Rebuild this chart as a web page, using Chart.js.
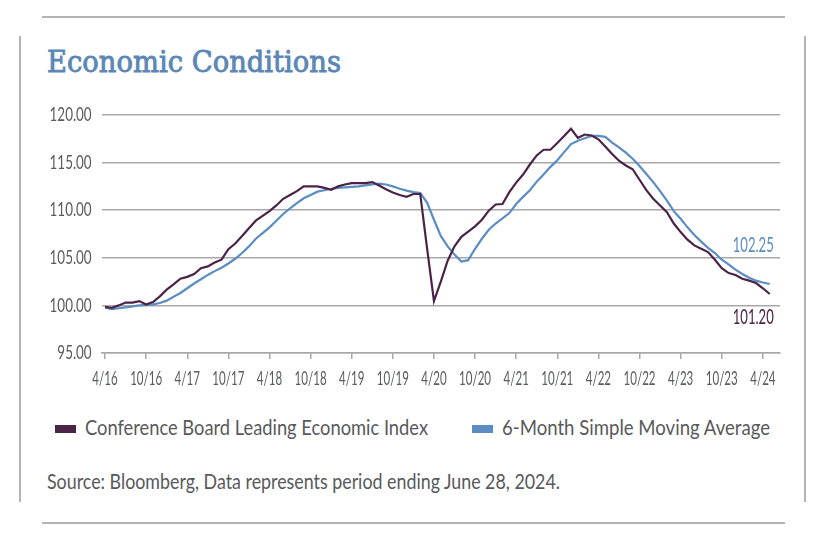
<!DOCTYPE html>
<html>
<head>
<meta charset="utf-8">
<script src="https://cdn.jsdelivr.net/npm/chart.js@4"></script>
<style>
  html, body { margin: 0; padding: 0; background: #fff; }
  body { width: 818px; height: 540px; position: relative; overflow: hidden; }
  .rule { position: absolute; background: #b4b4b4; }
  .texto { position: absolute; white-space: nowrap; transform-origin: 0 0; }
  #titulo { left: 47px; top: 48px; font: 29px 'DejaVu Serif', serif; line-height: 29px; color: #5b87b6; -webkit-text-stroke: 0.9px #5b87b6; }
  .leyenda { top: 416px; font: 21px Lato, 'Noto Sans', sans-serif; line-height: 21px; color: #58595b; }
  #fuente { left: 47px; top: 470px; font: 22px Lato, 'Noto Sans', sans-serif; line-height: 22px; color: #58595b; }
  .caja { position: absolute; top: 425px; width: 21px; height: 8px; }
</style>
</head>
<body>
<div class="rule" style="left:42px; top:16px; width:743px; height:2px;"></div>
<div class="rule" style="left:19px; top:36px; width:2px; height:466px;"></div>
<div class="rule" style="left:804px; top:36px; width:2px; height:466px;"></div>
<div class="rule" style="left:42px; top:522px; width:743px; height:2px;"></div>

<div id="titulo" class="texto" data-ancho="294">Economic Conditions</div>
<div style="position:absolute; left:0; top:95px; width:818px; height:305px;"><canvas id="grafico"></canvas></div>
<div class="caja" style="left:55px; background:#4b2346"></div>
<div class="texto leyenda" style="left:85px;" data-ancho="343">Conference Board Leading Economic Index</div>
<div class="caja" style="left:472px; background:#5b8dc2"></div>
<div class="texto leyenda" style="left:502px;" data-ancho="268">6-Month Simple Moving Average</div>
<div id="fuente" class="texto" data-ancho="513">Source: Bloomberg, Data represents period ending June 28, 2024.</div>

<script>
// Meses desde 4/16 hasta 6/24 (el ultimo sin dato, solo para el margen del eje)
const meses = [];
for (let i = 0; i < 99; i++) {
    const m = (3 + i) % 12 + 1;
    const a = 16 + Math.floor((3 + i) / 12);
    meses.push(m + '/' + a);
}

// Conference Board Leading Economic Index (mensual, 4/16 - 5/24)
const indiceLider = [
    99.85, 99.75, 100.0, 100.3, 100.3, 100.45, 100.1, 100.35, 100.95, 101.65, 102.2, 102.8,
    103.0, 103.3, 103.9, 104.1, 104.5, 104.8, 105.9, 106.5, 107.3, 108.1, 108.9, 109.4,
    109.9, 110.5, 111.2, 111.6, 112.0, 112.5, 112.5, 112.5, 112.35, 112.15, 112.5, 112.7,
    112.85, 112.85, 112.85, 112.95, 112.6, 112.2, 111.85, 111.6, 111.4, 111.7, 111.7, 106.0,
    100.45, 102.5, 104.7, 106.2, 107.2, 107.75, 108.3, 109.0, 109.95, 110.6, 110.65, 111.9,
    112.9, 113.75, 114.8, 115.75, 116.35, 116.35, 117.05, 117.8, 118.55, 117.6, 117.95, 117.85,
    117.45, 116.7, 115.9, 115.2, 114.7, 114.3, 113.2, 112.1, 111.2, 110.5, 109.8, 108.6,
    107.7, 106.9, 106.3, 105.95, 105.6, 104.8, 103.9, 103.4, 103.2, 102.8, 102.6, 102.35,
    101.8, 101.2
];

// Media movil simple de 6 meses
const mediaMovil = [
    99.75, 99.6, 99.7, 99.8, 99.9, 100.0, 100.05, 100.1, 100.25, 100.5, 100.9, 101.3,
    101.8, 102.3, 102.75, 103.2, 103.6, 103.95, 104.4, 104.9, 105.5, 106.2, 107.0, 107.6,
    108.2, 108.9, 109.6, 110.2, 110.75, 111.25, 111.6, 111.95, 112.1, 112.25, 112.35, 112.4,
    112.45, 112.5, 112.6, 112.7, 112.8, 112.7, 112.5, 112.25, 112.05, 111.9, 111.8, 110.8,
    109.0, 107.3, 106.2, 105.35, 104.6, 104.75, 105.95, 107.0, 107.95, 108.6, 109.15, 109.7,
    110.65, 111.4, 112.1, 113.0, 113.75, 114.55, 115.25, 116.1, 116.95, 117.3, 117.55, 117.8,
    117.8, 117.7, 117.1, 116.6, 116.05, 115.4, 114.65, 113.8, 112.95, 112.0, 111.0, 109.9,
    109.1, 108.2, 107.4, 106.7, 106.05, 105.5, 104.8, 104.3, 103.75, 103.3, 102.9, 102.6,
    102.4, 102.25
];

const etiquetasFinales = ['101.20', '102.25'];

// La fuente original es estrecha: se comprime el texto HTML a su ancho
document.querySelectorAll('.texto').forEach(el => {
    const w = el.getBoundingClientRect().width;
    el.style.transform = 'scaleX(' + (parseFloat(el.dataset.ancho) / w) + ')';
});

// Texto comprimido horizontalmente en el canvas
function textoEstrecho(ctx, txt, x, y, k) {
    ctx.save();
    ctx.translate(x, y);
    ctx.scale(k, 1);
    ctx.fillText(txt, 0, 0);
    ctx.restore();
}

// Etiquetas de los ejes y del ultimo valor de cada linea
const rotulos = {
    id: 'rotulos',
    afterDraw(chart) {
        const ctx = chart.ctx;
        const ejeX = chart.scales.x;
        const ejeY = chart.scales.y;
        ctx.save();
        ctx.fillStyle = '#5a5b5d';
        ctx.textBaseline = 'middle';

        ctx.font = '19px Lato';
        ctx.textAlign = 'right';
        const kY = 42 / ctx.measureText('120.00').width;
        ejeY.ticks.forEach(t => {
            textoEstrecho(ctx, t.value.toFixed(2), chart.chartArea.left - 10, ejeY.getPixelForValue(t.value), kY);
        });

        ctx.textAlign = 'center';
        const kX = 32 / ctx.measureText('10/16').width;
        ejeX.ticks.forEach((t, i) => {
            if (t.label) textoEstrecho(ctx, t.label, ejeX.getPixelForTick(i), chart.chartArea.bottom + 26, kX);
        });

        ctx.font = '21px Lato';
        ctx.textAlign = 'right';
        const kF = 41 / ctx.measureText('102.25').width;
        chart.data.datasets.forEach((ds, i) => {
            const meta = chart.getDatasetMeta(i);
            const p = meta.data[meta.data.length - 1];
            ctx.fillStyle = ds.borderColor;
            const dy = i === 0 ? 23 : -39;
            textoEstrecho(ctx, etiquetasFinales[i], p.x + 4, p.y + dy, kF);
        });
        ctx.restore();
    }
};

const data = {
    labels: meses,
    datasets: [{
        label: 'Conference Board Leading Economic Index',
        data: indiceLider,
        borderColor: '#4b2346',
        borderWidth: 2.2,
        pointRadius: 0,
        tension: 0
    }, {
        label: '6-Month Simple Moving Average',
        data: mediaMovil,
        borderColor: '#5b8dc2',
        borderWidth: 2.2,
        pointRadius: 0,
        tension: 0
    }]
};

const config = {
    type: 'line',
    data: data,
    options: {
        responsive: true,
        maintainAspectRatio: false,
        animation: false,
        layout: { padding: { top: 20, right: 38, bottom: 0, left: 0 } },
        plugins: {
            legend: { display: false },
            tooltip: { enabled: false }
        },
        scales: {
            x: {
                offset: true,
                afterFit: (s) => { s.height = 47; },
                border: { display: true, color: '#a8a8a8', width: 1.5 },
                grid: { drawOnChartArea: false, drawTicks: true, tickLength: 6, color: '#a8a8a8', lineWidth: 1.5 },
                ticks: {
                    autoSkip: false,
                    maxRotation: 0,
                    color: 'rgba(0,0,0,0)',
                    font: { size: 12 },
                    callback: function (val, idx) {
                        return idx % 6 === 0 && idx <= 96 ? meses[idx] : null;
                    }
                }
            },
            y: {
                min: 95,
                max: 120,
                afterFit: (s) => { s.width = 101.6; },
                border: { display: false },
                grid: { drawTicks: false, color: '#a8a8a8', lineWidth: 1.5 },
                ticks: {
                    stepSize: 5,
                    color: 'rgba(0,0,0,0)',
                    callback: (v) => v.toFixed(2)
                }
            }
        }
    },
    plugins: [rotulos]
};

const ctx = document.getElementById('grafico').getContext('2d');
new Chart(ctx, config);
</script>
</body>
</html>
